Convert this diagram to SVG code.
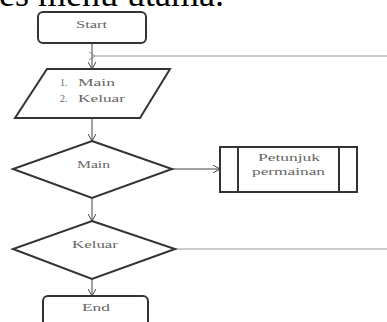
<svg xmlns="http://www.w3.org/2000/svg" width="387" height="322" viewBox="0 0 387 322">
<defs>
<style>
.s{fill:#fff;stroke:#333;stroke-width:2}
.t{font-family:"Liberation Serif",serif;font-size:10px;fill:#666}
.c{stroke:#444;stroke-width:1;fill:none}
.g{stroke:#999;stroke-width:1.2;fill:none}
</style>
<marker id="a" markerWidth="8" markerHeight="8" refX="7" refY="4" orient="auto" markerUnits="userSpaceOnUse">
<path d="M0,0 L7,4 L0,8" fill="none" stroke="#444" stroke-width="1"/>
</marker>
<marker id="ag" markerWidth="8" markerHeight="8" refX="1" refY="4" orient="auto" markerUnits="userSpaceOnUse">
<path d="M7,0 L1,4 L7,8" fill="none" stroke="#888" stroke-width="1"/>
</marker>
</defs>
<rect width="387" height="322" fill="#fff"/>
<text x="-1" y="6" font-family="Liberation Serif, serif" font-size="36" fill="#000">es menu utama.</text>
<g id="connectors">
<line class="c" x1="92" y1="43" x2="92" y2="69" marker-end="url(#a)"/>
<line class="g" x1="387" y1="56" x2="95" y2="56" marker-end="url(#ag)"/>
<line class="c" x1="92" y1="118" x2="92" y2="141" marker-end="url(#a)"/>
<line class="c" x1="172" y1="169" x2="220" y2="169" marker-end="url(#a)"/>
<line class="c" x1="92" y1="198" x2="92" y2="221" marker-end="url(#a)"/>
<line class="g" x1="175" y1="249" x2="387" y2="249"/>
<line class="c" x1="92" y1="279" x2="92" y2="296" marker-end="url(#a)"/>
</g>
<g id="start">
<rect class="s" x="38" y="12" width="108" height="31" rx="5"/>
<text class="t" x="76" y="28" textLength="31" lengthAdjust="spacingAndGlyphs">Start</text>
</g>
<g id="input">
<polygon class="s" points="47,69 170,69 140,118 15,118"/>
<text class="t" x="60" y="86">1.</text>
<text class="t" x="78" y="86" textLength="37" lengthAdjust="spacingAndGlyphs">Main</text>
<text class="t" x="60" y="102">2.</text>
<text class="t" x="78" y="102" textLength="47" lengthAdjust="spacingAndGlyphs">Keluar</text>
</g>
<g id="main">
<polygon class="s" points="92,141 172,169 92,198 13,169"/>
<text class="t" x="77" y="168" textLength="33" lengthAdjust="spacingAndGlyphs">Main</text>
</g>
<g id="petunjuk">
<rect class="s" x="220" y="147" width="137" height="45"/>
<line class="s" x1="238" y1="147" x2="238" y2="192"/>
<line class="s" x1="339" y1="147" x2="339" y2="192"/>
<text class="t" x="258" y="161" textLength="62" lengthAdjust="spacingAndGlyphs">Petunjuk</text>
<text class="t" x="252" y="175" textLength="73" lengthAdjust="spacingAndGlyphs">permainan</text>
</g>
<g id="keluar">
<polygon class="s" points="92,221 175,249 92,279 13,249"/>
<text class="t" x="72" y="248" textLength="46" lengthAdjust="spacingAndGlyphs">Keluar</text>
</g>
<g id="end">
<rect class="s" x="43" y="296" width="105" height="40" rx="5"/>
<text class="t" x="82" y="311" textLength="28" lengthAdjust="spacingAndGlyphs">End</text>
</g>
</svg>
